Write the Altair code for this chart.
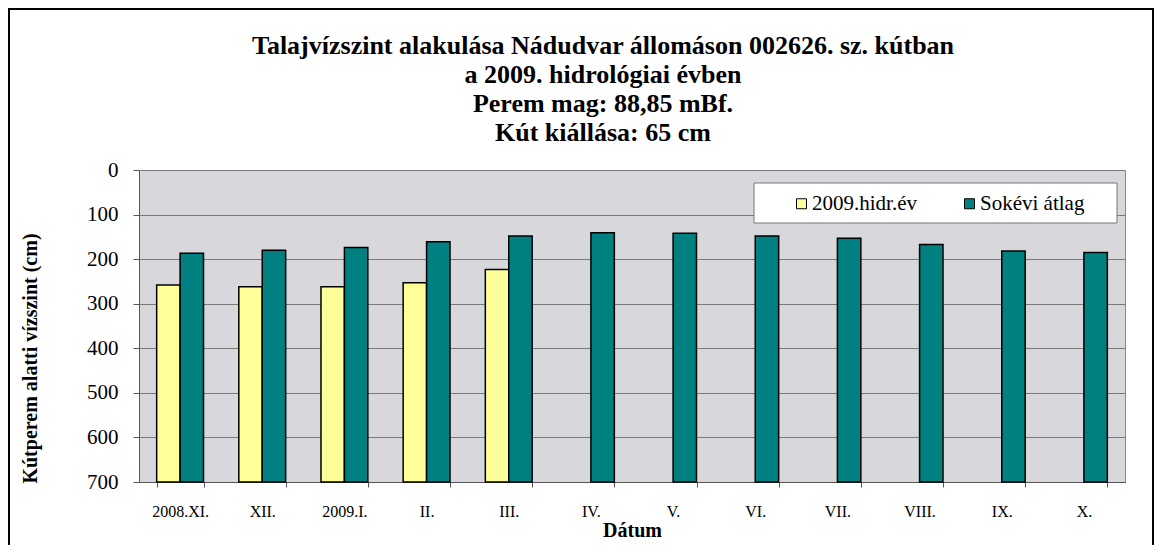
import altair as alt
import pandas as pd

# ---- data ----
months = ["2008.XI.", "XII.", "2009.I.", "II.", "III.", "IV.", "V.", "VI.", "VII.", "VIII.", "IX.", "X."]
hidr_2009 = [258, 262, 262, 253, 223, None, None, None, None, None, None, None]
sokevi_atlag = [187, 180, 174, 161, 148, 141, 142, 148, 153, 167, 182, 185]
series_names = ["2009.hidr.év", "Sokévi átlag"]
series_colors = ["#ffff99", "#008080"]
y_ticks = [0, 100, 200, 300, 400, 500, 600, 700]
axis_bottom = 700

title_lines = [
    "Talajvízszint alakulása Nádudvar állomáson 002626. sz. kútban",
    "a 2009. hidrológiai évben",
    "Perem mag: 88,85 mBf.",
    "Kút kiállása: 65 cm",
]

rows = []
for m, a, b in zip(months, hidr_2009, sokevi_atlag):
    if a is not None:
        rows.append({"month": m, "series": series_names[0], "value": a, "base": axis_bottom})
    rows.append({"month": m, "series": series_names[1], "value": b, "base": axis_bottom})
df = pd.DataFrame(rows)
deco = pd.DataFrame({"k": [0]})
title_df = pd.DataFrame({"t": ["\n".join(title_lines)]})

FONT = "Liberation Serif"

bars = alt.Chart(df).mark_bar(stroke="black", strokeWidth=1.5).encode(
    x=alt.X(
        "month:N",
        sort=months,
        scale=alt.Scale(domain=months, paddingInner=0.43, paddingOuter=0.215),
        axis=alt.Axis(
            title="Dátum", titleFont=FONT, titleFontSize=20, titleFontWeight="bold",
            titleY=48, titleBaseline="middle",
            labelFont=FONT, labelAngle=0, labelFontSize=16, labelPadding=16, tickSize=5,
            tickBand="extent", domainColor="#555555", tickColor="#555555", grid=False,
            labelColor="black", titleColor="black",
        ),
    ),
    xOffset=alt.XOffset("series:N", scale=alt.Scale(domain=series_names)),
    y=alt.Y(
        "value:Q",
        scale=alt.Scale(domain=[0, 700], reverse=True, nice=False),
        axis=alt.Axis(
            values=y_ticks, title="Kútperem alatti vízszint (cm)", titleFont=FONT,
            titleFontSize=20, titleFontWeight="bold", titleX=-109, titleY=188,
            titleBaseline="middle", titleAlign="center", titleAngle=270,
            labelFont=FONT, labelFontSize=21, labelPadding=15, tickSize=6,
            tickColor="#555555", domainColor="#555555", grid=True,
            gridColor="#7a7a7a", gridWidth=1, labelColor="black", titleColor="black",
        ),
    ),
    y2="base:Q",
    color=alt.Color(
        "series:N",
        scale=alt.Scale(domain=series_names, range=series_colors),
        legend=alt.Legend(
            title=None, orient="none", legendX=652, legendY=23, direction="horizontal",
            symbolType="square", symbolSize=100, symbolStrokeColor="black",
            symbolStrokeWidth=1, symbolOpacity=1, labelFont=FONT, labelFontSize=21,
            labelColor="black", columnPadding=42, labelOffset=0, padding=0,
        ),
    ),
)

legend_box = alt.Chart(deco).mark_rect(fill="white", stroke="#777777", strokeWidth=1).encode(
    x=alt.value(615), x2=alt.value(978), y=alt.value(13), y2=alt.value(53)
)
border_left = alt.Chart(deco).mark_rule(color="black", strokeWidth=2).encode(
    x=alt.value(-130), y=alt.value(-161), y2=alt.value(420)
)
border_top = alt.Chart(deco).mark_rule(color="black", strokeWidth=2).encode(
    x=alt.value(-131), x2=alt.value(1015), y=alt.value(-161)
)
border_right = alt.Chart(deco).mark_rule(color="black", strokeWidth=2).encode(
    x=alt.value(1014), y=alt.value(-161), y2=alt.value(420)
)
title_text = alt.Chart(title_df).mark_text(
    font=FONT, fontSize=26, fontWeight="bold", lineHeight=29, lineBreak="\n",
    align="center", baseline="alphabetic", color="black",
).encode(text="t:N", x=alt.value(464), y=alt.value(-116))

chart = alt.layer(bars, legend_box, border_left, border_top, border_right, title_text).properties(
    width=986,
    height=312,
    autosize=alt.AutoSizeParams(type="none"),
    padding={"left": 131, "top": 162, "right": 29, "bottom": 63},
    background="white",
).configure_view(
    fill="#d8d8dc", stroke="#888888", strokeWidth=1
).configure_axis(
    labelFont=FONT, titleFont=FONT, labelColor="black", titleColor="black"
).configure_legend(
    labelFont=FONT
)

chart.save("out.html", embed_options={"renderer": "svg", "actions": False})
